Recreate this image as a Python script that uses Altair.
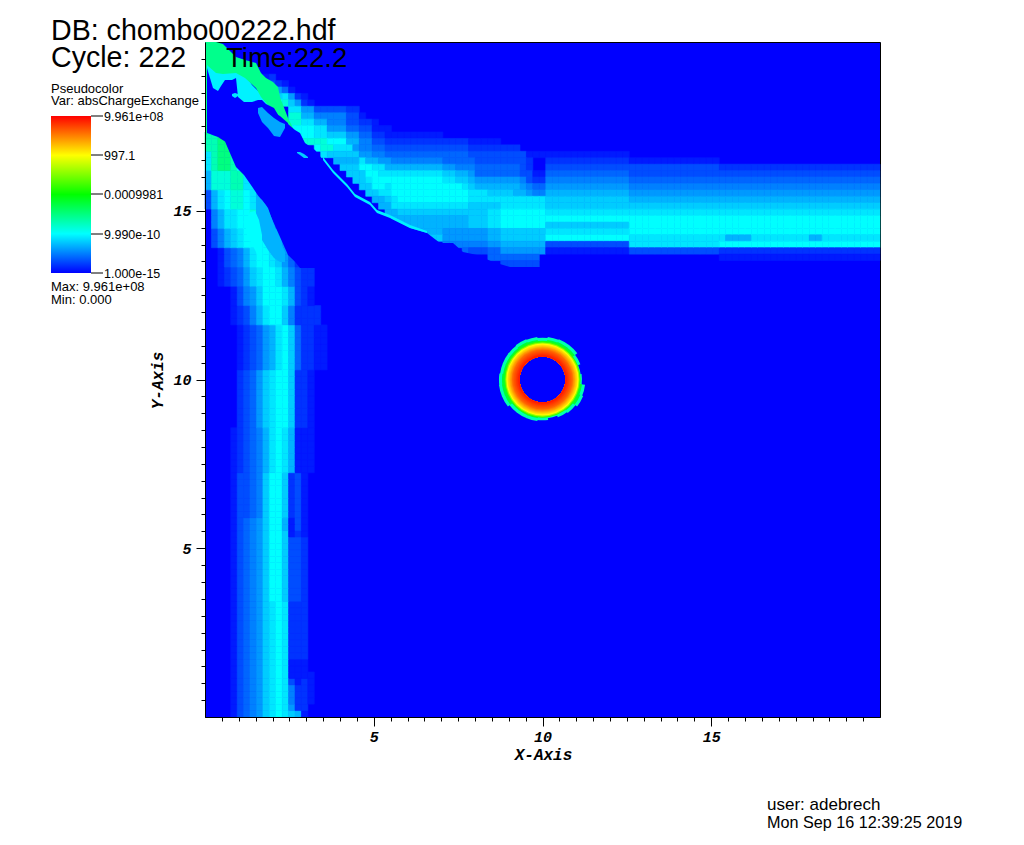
import altair as alt
import pandas as pd

# --- colour level t: 0 blue, 1 cyan, 2 green, 3 yellow, 4 red (log of absChargeExchange)
TICK_TEXT = ["9.961e+08", "997.1", "0.0009981", "9.990e-10", "1.000e-15"]
CELL = 20 / 105
LEVEL = {".": 0, "1": .1, "2": .2, "3": .3, "4": .4, "5": .5, "6": .6, "7": .7, "8": .8, "9": .9,
         "c": 1.0, "d": 1.15, "e": 1.3, "f": 1.5}

# left plume: first row, last row, levels from column 0
PLUME = [
    (0, 0, "....1345689c9871"), (1, 1, "....1345689c9622"), (2, 4, "....1345689c95221"),
    (5, 5, "....1345689c93121"), (6, 6, "....1345689c91111"), (7, 8, "....1345689c9111"),
    (9, 17, "....1345689c9222"), (18, 27, "....134568cc8332"), (28, 28, "....134568cc8121"),
    (29, 30, "....134568cc7131"), (31, 37, "....133458cc8231"), (38, 44, "....1234579c97111"),
    (45, 53, ".....234689cc8221"), (54, 60, ".....1234679c842211"), (61, 63, "....123579cc852222"),
    (64, 66, "....13568ccc97321"), (67, 69, "..123468 9cc975322".replace(" ", "")),
    (70, 72, "..134579cc98642"), (73, 75, ".35789cccc87 65".replace(" ", "")), (76, 78, ".5799ccdc8654"),
    (79, 81, "379cddc9754"), (82, 84, "7dddee995"), (85, 87, "9effec"), (88, 90, "eefff"),
]

# upper band: row, first column, levels
BAND = [
    (99, 9, "12"), (98, 10, "321"), (97, 10, "5641"), (96, 11, "89621"), (95, 11, "cd8621"),
    (94, 13, "9966333332" + "2"), (93, 13, "dd7755555331"), (92, 13, "dd997755533221"),
    (91, 13, "cccc996664433111"), (90, 13, "cccc998886644221" + "1" + "1111111"),
    (89, 15, "ddddccc775533" + "22" + "22222222222" + "11111"),
    (88, 17, "cdd99965544333" + "33" + "33333333" + "22222222"),
    (87, 18, "98888" + "8" + "66" + "55" + "44" + "444" + "44444444" + "333333333" + "111"),
    (86, 20, "7777" + "9" + "77" + "66" + "55" + "555555" + "4444" + "433333333" + "2"),
    (85, 21, "888" + "cc" + "99" + "77" + "7777777" + "6655" + "544444443" + "2"),
    (84, 22, "88" + "8" + "cc" + "999" + "9999999" + "8877" + "644444443" + "3" + "11"),
    (83, 23, "88" + "9" + "cc" + "ccccc" + "cccc" + "9988" + "766666665" + "3" + "22"),
    (82, 24, "88" + "cc" + "9" + "cccccccc" + "ccc9" + "877777776" + "544"),
    (81, 25, "88" + "99" + "cccccccc" + "cccc" + "999888877" + "655"),
    (80, 26, "77" + "8" + "9" + "ccc" + "cccc" + "cccc" + "999999999" + "999"),
    (79, 27, "77" + "99999" + "999" + "9999" + "88888" + "9999999"),
    (78, 28, "77" + "8888888" + "8888" + "88899" + "ccccccc"),
    (77, 29, "7" + "7777777" + "7777" + "88899" + "ccccccc"),
    (76, 30, "7777777" + "7777" + "88899" + "ccccccc"),
    (75, 32, "77777" + "6666" + "66677" + "8888888"),
    (74, 34, "888" + "6666" + "66677" + "8888888"),
    (73, 37, "5555" + "55566" + "7777777"),
    (72, 40, "4" + "33344" + "6666666"),
    (71, 44, "44444444"), (70, 46, "333333"),
]

# right-hand horizontal band: first column, last column, {row: level}
ZONES = [
    (53, 65, {87: "1", 86: "2", 85: "3", 84: "4", 83: "5", 82: "6", 81: "7", 80: "8", 79: "8", 78: "9",
              77: "c", 76: "8", 75: "9", 74: "c", 73: "3", 72: "1"}),
    (66, 79, {86: "1", 85: "3", 84: "3", 83: "4", 82: "5", 81: "6", 80: "7", 79: "8", 78: "9",
              77: "c", 76: "c", 75: "c", 74: "9", 73: "9", 72: "3"}),
    (80, 80, {85: "2", 84: "3", 83: "4", 82: "5", 81: "6", 80: "7", 79: "8", 78: "9",
              77: "c", 76: "c", 75: "c", 74: "9", 73: "c", 72: "2", 71: "1"}),
    (81, 84, {85: "2", 84: "3", 83: "4", 82: "5", 81: "6", 80: "7", 79: "8", 78: "9",
              77: "c", 76: "c", 75: "c", 74: "7", 73: "c", 72: "2", 71: "1"}),
    (85, 93, {85: "2", 84: "3", 83: "4", 82: "5", 81: "6", 80: "7", 79: "8", 78: "9",
              77: "c", 76: "c", 75: "c", 74: "9", 73: "c", 72: "2", 71: "1"}),
    (94, 95, {85: "2", 84: "3", 83: "4", 82: "5", 81: "6", 80: "7", 79: "8", 78: "9",
              77: "c", 76: "c", 75: "c", 74: "7", 73: "c", 72: "2", 71: "1"}),
    (96, 104, {85: "2", 84: "3", 83: "4", 82: "5", 81: "6", 80: "7", 79: "8", 78: "9",
               77: "c", 76: "c", 75: "c", 74: "9", 73: "c", 72: "2", 71: "1"}),
]

# shapes: x, upper edge, lower edge
EDGE_LINE = ([205, 207.2], [42, 42], [135, 135], 1.45)
GREEN = ([206, 208, 216, 223, 236, 245, 256, 261, 266, 273, 278, 280, 288, 293],
         [42, 42, 42, 44, 57, 60, 63, 73, 78, 82, 87, 97, 118, 128],
         [63, 66, 73, 74, 73, 78, 88, 97, 103, 110, 115, 116, 123, 130], 1.45)
CYAN = ([207, 212, 220, 236, 246, 252, 262, 268, 276],
        [60, 66, 70, 72, 76, 85, 95, 100, 110],
        [92, 92, 92, 104, 104, 104, 104, 108, 114], 0.95)
WEDGE_X = [207, 210, 213, 218, 221, 225, 232, 236, 238, 244, 252, 258, 262, 266, 274, 280, 288, 295, 300,
           305, 315, 323, 333, 347, 355, 370, 377, 390, 410, 427, 440, 453, 463, 477, 493, 510, 540]
WEDGE_TOP = [68, 78, 88, 91, 86, 80, 80, 78, 97, 102, 102, 100, 100, 104, 108, 118, 124, 130, 133,
             143, 150, 160, 173, 187, 197, 205, 213, 218, 228, 233, 243, 243, 252, 255, 262, 267, 267]
WEDGE_BOTTOM_X = [207, 210, 218, 226, 230, 236, 246, 256, 270, 275, 283, 288, 292, 300, 540]
WEDGE_BOTTOM = [133, 134, 137, 142, 153, 167, 177, 193, 210, 227, 243, 255, 258, 268, 268]
PATCHES = [
    ([258, 262, 268, 274, 280, 285], [108, 107, 113, 118, 122, 124], [113, 122, 128, 136, 137, 128], 0.65),
    ([297, 300, 304, 308], [152, 152, 154, 157], [153, 155, 158, 158], 0.8),
    ([232, 235, 238], [94, 93, 94], [96, 98, 96], 0.9),
    ([256, 262, 268, 274, 280, 285], [196, 200, 208, 225, 240, 252], [215, 240, 250, 258, 262, 262], 0.7),
    ([246, 250, 255, 259, 262], [220, 212, 211, 220, 235], [233, 240, 250, 258, 262], 1.0),
]
FILAMENT = ([323, 333, 347, 355, 370, 377, 390, 410, 427],
            [157, 170, 184, 194, 202, 210, 215, 225, 231],
            [160, 173, 187, 197, 205, 213, 218, 228, 233], 0.95)

# ring round (10, 10): hole radius, outer radii and levels, in axis units
RING_HOLE = .68
RING_R = [.71, .74, .77, .80, .83, .86, .89, .92, .95, .98, 1.01, 1.04, 1.07, 1.10, 1.13]
RING_T = [3.9, 3.85, 3.8, 3.75, 3.7, 3.65, 3.6, 3.5, 3.4, 3.3, 3.2, 3.1, 3.0, 2.6, 2.2]
FRINGE_ANGLE = list(range(0, 360, 15))
FRINGE_OUTER = [1.24, 1.27, 1.29, 1.29, 1.21, 1.14, 1.17, 1.27, 1.30, 1.24, 1.21, 1.16,
                1.21, 1.24, 1.24, 1.24, 1.30, 1.30, 1.29, 1.27, 1.27, 1.27, 1.29, 1.27]

PX = 33.75
def ax(px):
    return (px - 205) / PX
def ay(py):
    return (717 - py) / PX

cells = []
def add(i, j, ch):
    t = LEVEL[ch]
    if t > 0:
        cells.append(dict(x0=i * CELL, x1=(i + 1) * CELL, y0=j * CELL, y1=(j + 1) * CELL, t=t))

for j0, j1, s in PLUME:
    for j in range(j0, j1 + 1):
        for i, ch in enumerate(s):
            add(i, j, ch)
for j, i0, s in BAND:
    for k, ch in enumerate(s):
        add(i0 + k, j, ch)
for i0, i1, rows in ZONES:
    for i in range(i0, i1 + 1):
        for j, ch in rows.items():
            add(i, j, ch)

color_scale = alt.Scale(domain=[0, 1, 2, 3, 4], range=["#0000ff", "#00ffff", "#00ff00", "#ffff00", "#ff0000"],
                        interpolate="rgb")
colour = alt.Color("t:Q", scale=color_scale, legend=None)

tick_values = [v / 2 for v in range(1, 40)]
def axis(title, **kw):
    return alt.Axis(values=tick_values, title=title, grid=False, domainColor="black", tickColor="black",
                    tickSize=alt.expr("datum.value % 5 === 0 ? 9 : 4"),
                    labelExpr="datum.value % 5 === 0 ? datum.value : ''",
                    labelFont="Liberation Mono", labelFontWeight="bold", labelFontStyle="italic", labelFontSize=15,
                    labelColor="black", labelOverlap=False, titleFont="Liberation Mono", titleFontWeight="bold",
                    titleFontStyle="italic", titleFontSize=16, titleColor="black", zindex=1, **kw)

xs = alt.Scale(domain=[0, 20], nice=False, zero=False)
ys = alt.Scale(domain=[0, 20], nice=False, zero=False)
x_axis = axis("X-Axis", labelPadding=3, titleX=338, titleY=29)
y_axis = axis("Y-Axis", labelPadding=5, titleX=-40, titleY=338)

raster = alt.Chart(pd.DataFrame(cells)).mark_rect(strokeWidth=0.6).encode(
    x=alt.X("x0:Q", scale=xs, axis=x_axis), x2="x1:Q", y=alt.Y("y0:Q", scale=ys, axis=y_axis), y2="y1:Q",
    color=colour, stroke=alt.Stroke("t:Q", scale=color_scale, legend=None))

def shape(xp, top, bot, t):
    df = pd.DataFrame(dict(x=[ax(v) for v in xp], a=[ay(v) for v in top], b=[ay(v) for v in bot], t=[t] * len(xp)))
    return alt.Chart(df).mark_area(interpolate="linear").encode(
        x=alt.X("x:Q", scale=xs, axis=x_axis), y=alt.Y("a:Q", scale=ys, stack=None, axis=y_axis), y2="b:Q", color=colour)

# lower edge of the central blue wedge, sampled at the wedge's x positions
wedge_bottom = []
for xv in WEDGE_X:
    for k in range(len(WEDGE_BOTTOM_X) - 1):
        if WEDGE_BOTTOM_X[k] <= xv <= WEDGE_BOTTOM_X[k + 1]:
            f = (xv - WEDGE_BOTTOM_X[k]) / (WEDGE_BOTTOM_X[k + 1] - WEDGE_BOTTOM_X[k])
            wedge_bottom.append(WEDGE_BOTTOM[k] + f * (WEDGE_BOTTOM[k + 1] - WEDGE_BOTTOM[k]))
            break

shapes = [shape(*CYAN), shape(*GREEN), shape(*EDGE_LINE), shape(WEDGE_X, WEDGE_TOP, wedge_bottom, 0)]
shapes += [shape(*p) for p in PATCHES] + [shape(*FILAMENT)]

def arc_rows(a0, a1, r0, r1, t):
    return dict(cx=10, cy=10, a0=a0, a1=a1, r0=r0 * PX, r1=r1 * PX, t=t)

RAD = 3.14159265 / 180
arc_data = []
for a, r in zip(FRINGE_ANGLE, FRINGE_OUTER):
    arc_data.append(arc_rows((a - 8) * RAD, (a + 8) * RAD, RING_HOLE, r, 1.3))
for a, r in zip(FRINGE_ANGLE, FRINGE_OUTER):
    arc_data.append(arc_rows((a - 8) * RAD, (a + 8) * RAD, RING_HOLE, r - 0.09, 1.8))
for r, t in list(zip(RING_R, RING_T))[::-1]:
    arc_data.append(arc_rows(0, 6.2832, RING_HOLE, r, t))

ring_df = pd.DataFrame(arc_data).assign(idx=range(len(arc_data)))
ring = alt.Chart(ring_df).mark_arc().encode(
    x=alt.X("cx:Q", scale=xs, axis=x_axis), y=alt.Y("cy:Q", scale=ys, axis=y_axis),
    theta=alt.Theta("a0:Q", scale=None), theta2="a1:Q",
    radius=alt.Radius("r1:Q", scale=None), radius2="r0:Q", color=colour,
    order=alt.Order("idx:Q"))

one = pd.DataFrame({"k": [0]})
bar = alt.Chart(one).mark_rect(fill=alt.LinearGradient(
    gradient="linear", x1=0, x2=0, y1=1, y2=0,
    stops=[alt.GradientStop(offset=0, color="#0000ff"), alt.GradientStop(offset=.25, color="#00ffff"),
           alt.GradientStop(offset=.5, color="#00ff00"), alt.GradientStop(offset=.75, color="#ffff00"),
           alt.GradientStop(offset=1, color="#ff0000")])).encode(
    x=alt.value(-154), x2=alt.value(-114), y=alt.value(74), y2=alt.value(231))

tick_y = [74, 113, 152, 192, 231]
bar_ticks = [alt.Chart(one).mark_rule(color="black").encode(
    x=alt.value(-114), x2=alt.value(-102), y=alt.value(v)) for v in tick_y]

labels = [("DB: chombo00222.hdf", -154, -2, 28.6), ("Cycle: 222", -154, 25, 28.6), ("Time:22.2", 21, 25, 27.5),
          ("Pseudocolor", -154, 51, 13), ("Var: absChargeExchange", -154, 63, 13),
          ("Max: 9.961e+08", -154, 249, 13), ("Min: 0.000", -154, 262, 13),
          ("user: adebrech", 562, 768, 17), ("Mon Sep 16 12:39:25 2019", 562, 786, 16.2)]
labels += [(t, -101, y + 5, 12.5) for t, y in zip(TICK_TEXT, tick_y)]
texts = [alt.Chart(one).mark_text(text=s, fontSize=size, align="left", baseline="alphabetic",
                                  font="Liberation Sans", color="black").encode(
    x=alt.value(px), y=alt.value(py)) for s, px, py, size in labels]

chart = alt.layer(raster, *shapes, ring, bar, *bar_ticks, *texts).resolve_scale(x="shared", y="shared").properties(
    width=675, height=675, background="white",
    autosize=alt.AutoSizeParams(type="none"),
    padding={"left": 197, "top": 34, "right": 130, "bottom": 125},
).configure_view(fill="#0000ff", stroke="black")

chart.save("out.html", embed_options={"renderer": "svg", "actions": False})
